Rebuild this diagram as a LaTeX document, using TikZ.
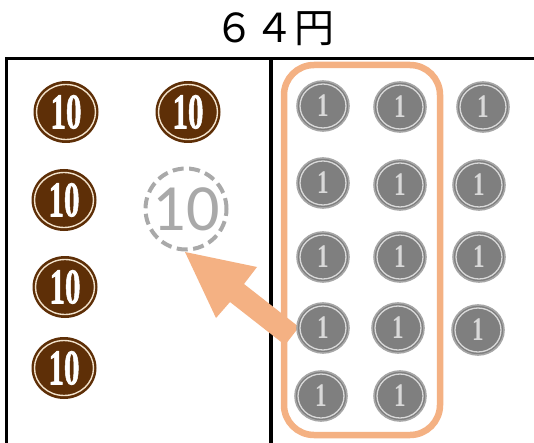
\documentclass[tikz,border=0pt]{standalone}
\usepackage{fontspec}
\usepackage{graphicx}
\usetikzlibrary{shapes.geometric}
\setmainfont{Liberation Serif}
\newfontfamily\coinfont[FakeBold=1.6]{Liberation Serif Bold}
\newfontfamily\cjkfont{Noto Sans CJK JP}
\newfontfamily\thinfont{Carlito}
\definecolor{coinbrown}{HTML}{5E2F07}
\definecolor{coincream}{HTML}{F3E3CC}
\definecolor{coingray}{HTML}{7F7F7F}
\definecolor{coinedge}{HTML}{A6A6A6}
\definecolor{coinring}{HTML}{D9D9D9}
\definecolor{peach}{HTML}{F4B183}
\definecolor{ghost}{HTML}{A9A9A9}
\tikzset{
  tencoin/.style={ellipse,inner sep=0pt,minimum width=65pt,minimum height=62pt,fill=coinbrown,text=white,
    font=\coinfont\fontsize{50}{50}\selectfont},
  onecoin/.style={ellipse,inner sep=0pt,minimum width=52pt,minimum height=50pt,fill=coingray,draw=coinedge,line width=1.6pt,text=coinring,
    font=\fontsize{33}{33}\selectfont\bfseries},
  tenring/.style={draw=coincream,line width=1.4pt},
  onering/.style={draw=coinring,line width=1.3pt},
  frameline/.style={draw=black,line width=3.6pt},
  groupbox/.style={draw=peach,line width=6.5pt,rounded corners=30pt},
}
\newcommand{\tenat}[3]{\node[tencoin] (#1) at (#2,#3) {\raisebox{-1pt}{\scalebox{.62}[1]{10}}};
  \draw[tenring] (#1.center) ellipse (29.5 and 27.5);}
\newcommand{\oneat}[3]{\node[onecoin] (#1) at (#2,#3) {\scalebox{.7}[1]{1}};
  \draw[onering] (#1.center) ellipse (23 and 22);}
\begin{document}
\begin{tikzpicture}[x=1pt,y=-1pt]
\useasboundingbox (0,0) rectangle (534,443);
\fill[white] (0,0) rectangle (534,443);
\node[font=\cjkfont\fontsize{40}{40}\selectfont,inner sep=0pt] (title) at (274,28.5) {６４円};
\coordinate (frameTL) at (6.5,58.5);
\coordinate (frameTR) at (534,58.5);
\coordinate (frameBL) at (6.5,443);
\coordinate (divT) at (271,58.5);
\coordinate (divB) at (271,443);
\draw[frameline] (frameBL) -- (frameTL) -- (frameTR);
\draw[frameline] (divT) -- (divB);
\tenat{t1}{66}{112}
\tenat{t2}{188}{112}
\tenat{t3}{64}{200}
\tenat{t4}{65}{287}
\tenat{t5}{64}{368}
\node[draw=ghost,dash pattern=on 11pt off 5.5pt,line width=4pt,circle,minimum size=81pt,inner sep=0pt,text=ghost,
  font=\thinfont\fontsize{66}{66}\selectfont] (ghost) at (186,209) {10};
\draw[groupbox] (284,65) rectangle (440,435);
\fill[peach] (185,252) -- (257,267) -- (244,284) -- (299,327) -- (285,345) -- (230,302) -- (216,318) -- cycle;
\oneat{a1}{323}{106}
\oneat{a2}{400}{107}
\oneat{a3}{483}{107}
\oneat{b1}{323}{183}
\oneat{b2}{400}{185}
\oneat{b3}{479}{185}
\oneat{c1}{323}{257}
\oneat{c2}{400}{257}
\oneat{c3}{479}{257}
\oneat{d1}{323}{328}
\oneat{d2}{398}{328}
\oneat{d3}{478}{330}
\oneat{e1}{321}{396}
\oneat{e2}{400}{396}
\end{tikzpicture}
\end{document}
